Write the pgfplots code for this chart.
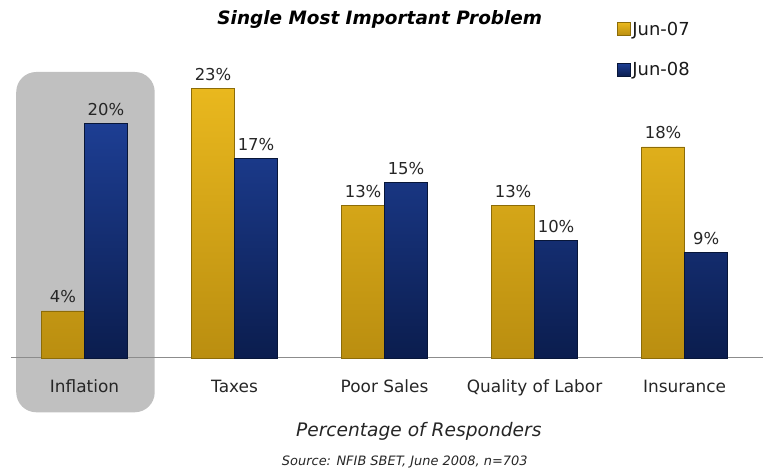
\documentclass[border=0pt]{standalone}
\usepackage{fontspec}
\setmainfont{DejaVu Sans}
\usepackage{pgfplots}
\pgfplotsset{compat=1.18}
\definecolor{goldtop}{HTML}{E9B81E}
\definecolor{goldbot}{HTML}{BA8E10}
\definecolor{goldedge}{HTML}{8C6C08}
\definecolor{navytop}{HTML}{1D3E93}
\definecolor{navybot}{HTML}{0B1D4E}
\definecolor{navyedge}{HTML}{081638}
\definecolor{boxgray}{HTML}{C0C0C0}
\begin{document}
\begin{tikzpicture}
\begin{axis}[
  at={(11bp,113bp)}, anchor=south west,
  scale only axis, width=752bp, height=293bp,
  xmin=-0.49, xmax=4.52, ymin=0, ymax=25,
  set layers, clip=false,
  /pgf/number format/assume math mode=true,
  axis x line=bottom, axis y line=left,
  y axis line style={draw=none}, ytick=\empty,
  x axis line style={draw=gray!90, line width=0.8bp, -},
  xtick={0,1,2,3,4},
  xticklabels={Inflation,Taxes,Poor Sales,Quality of Labor,Insurance},
  major tick length=0pt,
  xticklabel style={font=\fontsize{17}{19}\selectfont, anchor=base, yshift=-35bp, text=black!85},
  ybar=0pt, bar width=43bp,
  nodes near coords={\pgfmathprintnumber{\pgfplotspointmeta}\%},
  every node near coord/.append style={font=\fontsize{16.5}{18}\selectfont, text=black!85, anchor=base, yshift=8bp, inner sep=0pt},
  legend style={at={(0.806,1.155)}, anchor=north west, draw=none, fill=none,
    font=\fontsize{18}{20}\selectfont, row sep=22bp, inner sep=0pt,
    nodes={inner sep=2bp, text=black!90}},
  legend cell align=left,
  legend image code/.code={\fill[#1] (0bp,-6.5bp) rectangle (13bp,6.5bp);},
]
\begin{pgfonlayer}{axis background}
\fill[boxgray, rounded corners=20bp] (axis cs:-0.455,-4.65) rectangle (axis cs:0.468,24.4);
\end{pgfonlayer}
\addplot[top color=goldtop, bottom color=goldbot, draw=goldedge, line width=0.4bp]
  coordinates {(0,4) (1,23) (2,13) (3,13) (4,18)};
\addlegendentry{Jun-07}
\addplot[top color=navytop, bottom color=navybot, draw=navyedge, line width=0.4bp]
  coordinates {(0,20) (1,17) (2,15) (3,10) (4,9)};
\addlegendentry{Jun-08}
\end{axis}
\node[font=\fontsize{18.5}{21}\selectfont\bfseries\itshape] at (380bp,451bp) {Single Most Important Problem};
\node[font=\fontsize{18.7}{21}\selectfont\itshape, text=black!85] at (419bp,39bp) {Percentage of Responders};
\node[font=\fontsize{13}{15}\selectfont\itshape, text=black!85] at (405bp,9bp) {Source: NFIB SBET, June 2008, n=703};
\path (0,0) rectangle (763bp,471bp);
\end{tikzpicture}
\end{document}
